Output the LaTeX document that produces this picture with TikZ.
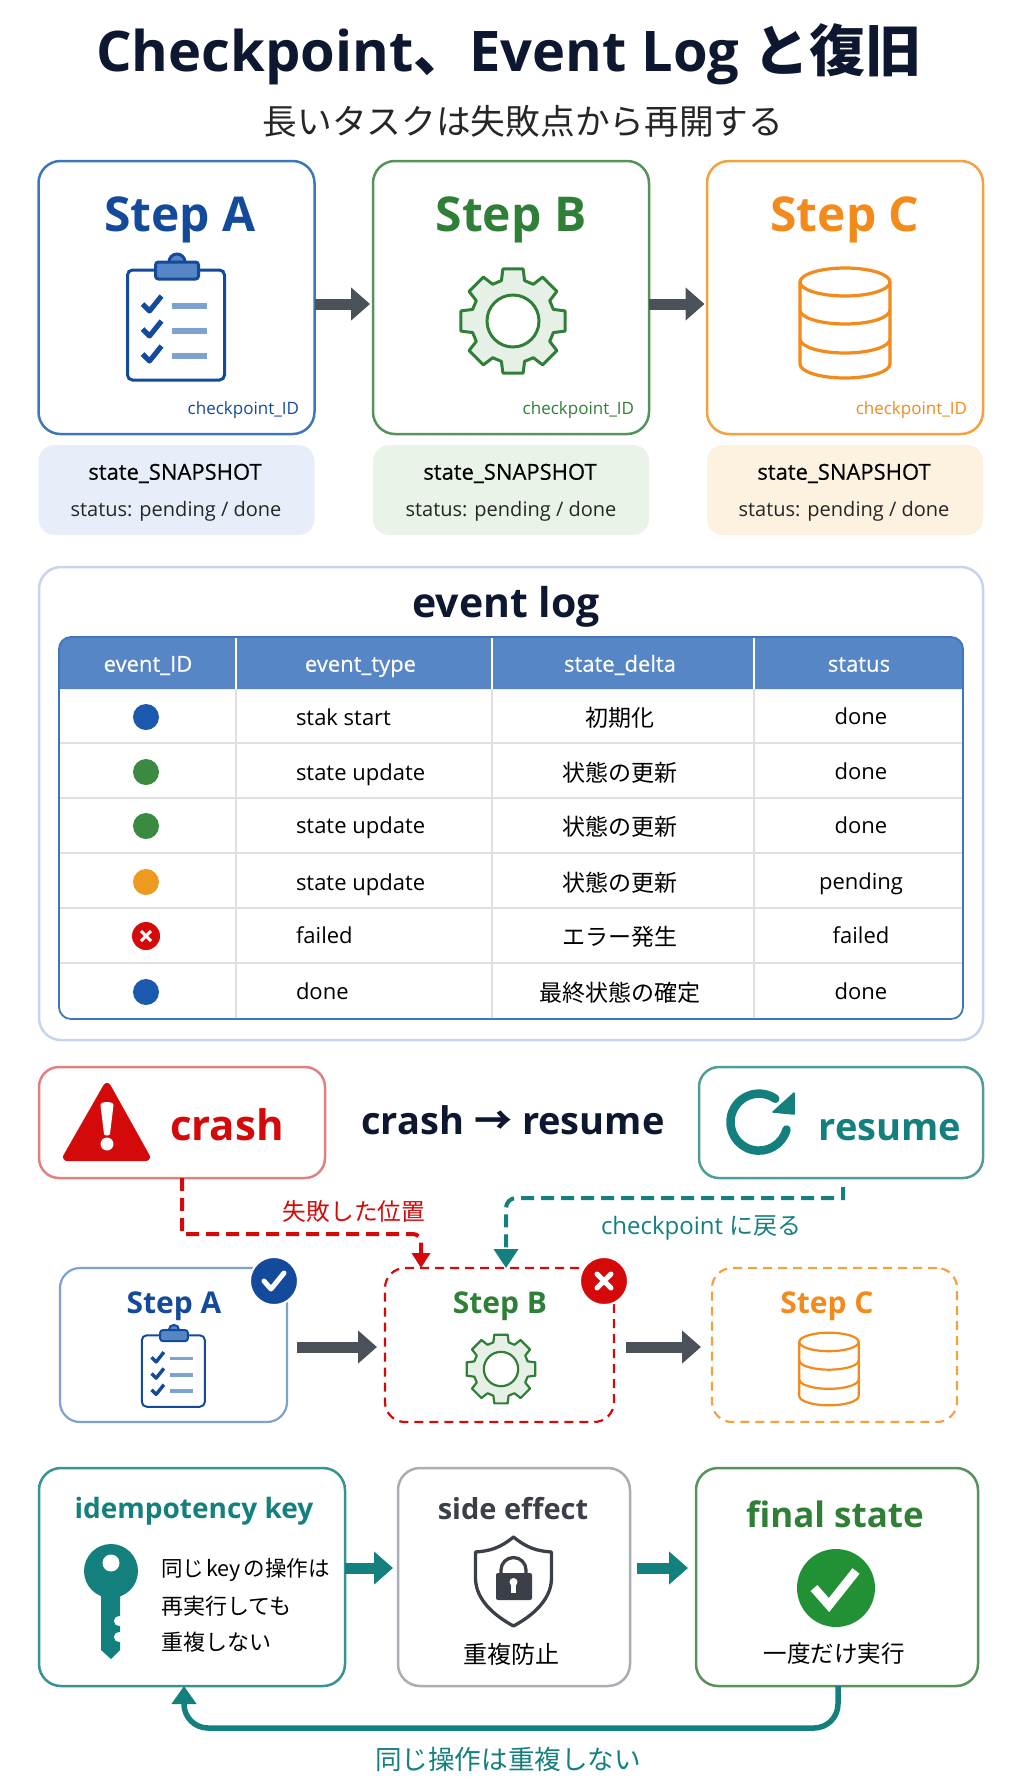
\documentclass[tikz,border=0pt]{standalone}
\usepackage{fontspec}
\setmainfont{Open Sans}
\newfontfamily\cjk{Noto Sans CJK JP}
\newfontfamily\medium[FakeBold=0.5]{Open Sans}
\usetikzlibrary{arrows.meta}

\definecolor{ink}{HTML}{0D1730}
\definecolor{blue1}{HTML}{134A9B}
\definecolor{blue2}{HTML}{3E76BC}
\definecolor{blue3}{HTML}{7DA2D2}
\definecolor{bluedot}{HTML}{1A59AE}
\definecolor{headblue}{HTML}{5686C6}
\definecolor{green1}{HTML}{2F7F37}
\definecolor{green2}{HTML}{55935B}
\definecolor{greendot}{HTML}{3A8A42}
\definecolor{greenok}{HTML}{229136}
\definecolor{orange1}{HTML}{F28A1C}
\definecolor{orange2}{HTML}{F4A13F}
\definecolor{orangedot}{HTML}{EC9A20}
\definecolor{red1}{HTML}{D40A0A}
\definecolor{red2}{HTML}{E27F80}
\definecolor{teal1}{HTML}{14807E}
\definecolor{teal2}{HTML}{4F9C99}
\definecolor{greyline}{HTML}{4B5159}
\definecolor{greybox}{HTML}{A9ADB4}
\definecolor{dark}{HTML}{3A3F48}
\definecolor{snapblue}{HTML}{E7EEF9}
\definecolor{snapgreen}{HTML}{EAF3E8}
\definecolor{snaporange}{HTML}{FDF1E0}

\newcommand{\fs}[1]{\fontsize{#1}{#1}\selectfont}

\tikzset{
  lab/.style={inner sep=0pt,outer sep=0pt,font=\fs{#1},text height=0.74*#1 pt,text depth=0.22*#1 pt},
  jlab/.style={inner sep=0pt,outer sep=0pt,font=\fs{#1}\cjk,text height=0.88*#1 pt,text depth=0.12*#1 pt},
  stepbox/.style={draw=#1,rounded corners=22pt,line width=2.5pt,minimum width=276pt,minimum height=273pt,inner sep=0pt,outer sep=0pt},
  snapbox/.style={fill=#1,rounded corners=16pt,minimum width=276pt,minimum height=90pt,inner sep=0pt,outer sep=0pt},
  lowbox/.style={draw=#1,rounded corners=22pt,line width=2.5pt,minimum height=218pt,inner sep=0pt,outer sep=0pt},
  dashbox/.style={draw=#1,rounded corners=20pt,line width=2.2pt,dash pattern=on 9pt off 6pt,minimum height=154pt,inner sep=0pt,outer sep=0pt},
  bigarrow/.style={draw=#1,line width=11pt,-{Triangle[length=19pt,width=32pt]}},
  dot/.style={circle,fill=#1,minimum size=26pt,inner sep=0pt,outer sep=0pt},
  clipicon/.pic={
    \path[draw=blue1,fill=white,rounded corners=5pt] (-48,-55) rectangle (49,55);
    \path[draw=blue1,fill=headblue] (1.5,-63) circle[radius=8pt];
    \path[draw=blue1,fill=headblue,rounded corners=3pt] (-20,-63) rectangle (23,-46);
    \path[draw=blue1,line join=round,line width=1.3*\pgflinewidth] (-33,-21) -- (-26,-14) -- (-14,-29);
    \path[draw=blue1,line join=round,line width=1.3*\pgflinewidth] (-33,4) -- (-26,11) -- (-14,-4);
    \path[draw=blue1,line join=round,line width=1.3*\pgflinewidth] (-33,29) -- (-26,36) -- (-14,21);
    \path[draw=blue3,line width=1.3*\pgflinewidth] (-4,-19) -- (31,-19);
    \path[draw=blue3,line width=1.3*\pgflinewidth] (-4,6) -- (31,6);
    \path[draw=blue3,line width=1.3*\pgflinewidth] (-4,31) -- (31,31);
  },
  gearicon/.pic={
    \path[draw=green1,fill=green1!12,line join=round] (-16:42)
      \foreach \a in {0,45,...,315} { -- (\a-16:42) -- (\a-11:53) -- (\a+11:53) -- (\a+16:42) } -- cycle;
    \path[draw=green1,fill=white] (0,0) circle[radius=26pt];
  },
  cylicon/.pic={
    \path[draw=orange1,fill=white] (-45,-41) -- (-45,41) arc[start angle=180,end angle=360,x radius=45pt,y radius=14pt] -- (45,-41);
    \path[draw=orange1,fill=white] (0,-41) ellipse[x radius=45pt,y radius=14pt];
    \path[draw=orange1] (-45,-13) arc[start angle=180,end angle=360,x radius=45pt,y radius=14pt];
    \path[draw=orange1] (-45,16) arc[start angle=180,end angle=360,x radius=45pt,y radius=14pt];
  },
}

\begin{document}
\begin{tikzpicture}[x=1pt,y=-1pt]
\useasboundingbox (0,0) rectangle (1024,1792);

\node[lab=56,font=\fs{56}\bfseries,text=ink] (title) at (509,57) {Checkpoint{\cjk 、}Event Log {\cjk と復旧}};
\node[jlab=34.7,text=black!85] (subtitle) at (523,121) {長いタスクは失敗点から再開する};

\node[stepbox=blue2] (stepa) at (176.5,297.5) {};
\node[stepbox=green2] (stepb) at (511,297.5) {};
\node[stepbox=orange2] (stepc) at (845,297.5) {};

\node[lab=48,font=\fs{48}\bfseries,text=blue1] (titlea) at (180,219) {Step A};
\node[lab=48,font=\fs{48}\bfseries,text=green1] (titleb) at (511,219) {Step B};
\node[lab=48,font=\fs{48}\bfseries,text=orange1] (titlec) at (845,219) {Step C};

\pic[line width=3pt] at (175.5,325) {clipicon};
\pic[line width=3pt] at (513,321) {gearicon};
\pic[line width=3.2pt] at (845,323) {cylicon};

\node[lab=17,anchor=east,text=blue1] (ida) at (299,410) {checkpoint\_ID};
\node[lab=17,anchor=east,text=green1] (idb) at (634,410) {checkpoint\_ID};
\node[lab=17,anchor=east,text=orange1] (idc) at (967,410) {checkpoint\_ID};

\path[bigarrow=greyline,shorten >=3pt] (stepa.east |- 0,304) -- (stepb.west |- 0,304);
\path[bigarrow=greyline,shorten >=2.5pt] (stepb.east |- 0,304) -- (stepc.west |- 0,304);

\node[snapbox=snapblue] (snapa) at (176.5,490) {};
\node[snapbox=snapgreen] (snapb) at (511,490) {};
\node[snapbox=snaporange] (snapc) at (845,490) {};

\node[lab=22,font=\fs{22}\medium,text=black] (snapa1) at (175,474) {state\_SNAPSHOT};
\node[lab=22,font=\fs{22}\medium,text=black] (snapb1) at (510,474) {state\_SNAPSHOT};
\node[lab=22,font=\fs{22}\medium,text=black] (snapc1) at (844,474) {state\_SNAPSHOT};
\node[lab=20,text=black!85] (snapa2) at (176,511) {status: pending / done};
\node[lab=20,text=black!85] (snapb2) at (511,511) {status: pending / done};
\node[lab=20,text=black!85] (snapc2) at (844,511) {status: pending / done};

\path[draw=blue3!45,line width=2.5pt,rounded corners=22pt] (39,567) rectangle (983,1040);
\node[lab=41,font=\fs{41}\bfseries,text=ink] (logtitle) at (506,607) {event log};

\path[fill=headblue] (59,689) [rounded corners=12pt] -- (59,637) -- (963,637) [sharp corners] -- (963,689) -- cycle;
\path[draw=black!12,line width=1.5pt] (59,743) -- (963,743);
\path[draw=black!12,line width=1.5pt] (59,798) -- (963,798);
\path[draw=black!12,line width=1.5pt] (59,853) -- (963,853);
\path[draw=black!12,line width=1.5pt] (59,908) -- (963,908);
\path[draw=black!12,line width=1.5pt] (59,963) -- (963,963);
\path[draw=black!12,line width=1.5pt] (236,689) -- (236,1019);
\path[draw=black!12,line width=1.5pt] (492,689) -- (492,1019);
\path[draw=black!12,line width=1.5pt] (754,689) -- (754,1019);
\path[draw=white,line width=1.2pt] (236,637) -- (236,689);
\path[draw=white,line width=1.2pt] (492,637) -- (492,689);
\path[draw=white,line width=1.2pt] (754,637) -- (754,689);
\path[draw=blue2,line width=1.8pt,rounded corners=12pt] (59,637) rectangle (963,1019);

\node[lab=22,font=\fs{22}\medium,text=white] (head1) at (148,666) {event\_ID};
\node[lab=22,font=\fs{22}\medium,text=white] (head2) at (360.5,666) {event\_type};
\node[lab=22,font=\fs{22}\medium,text=white] (head3) at (620,666) {state\_delta};
\node[lab=22,font=\fs{22}\medium,text=white] (head4) at (859,666) {status};

\node[dot=bluedot] (dot1) at (146,717) {};
\node[dot=greendot] (dot2) at (146,772) {};
\node[dot=greendot] (dot3) at (146,826) {};
\node[dot=orangedot] (dot4) at (146,882) {};
\node[dot=red1,minimum size=28pt] (dot5) at (146,936) {};
\node[dot=bluedot] (dot6) at (146,992) {};
\path[draw=white,line width=3pt] (141,931) -- (151,941);
\path[draw=white,line width=3pt] (151,931) -- (141,941);

\node[lab=22,anchor=west] (type1) at (296,720) {stak start};
\node[lab=22,anchor=west] (type2) at (296,775) {state update};
\node[lab=22,anchor=west] (type3) at (296,828) {state update};
\node[lab=22,anchor=west] (type4) at (296,885) {state update};
\node[lab=22,anchor=west] (type5) at (296,938) {failed};
\node[lab=22,anchor=west] (type6) at (296,994) {done};

\node[jlab=23] (delta1) at (620,718) {初期化};
\node[jlab=23] (delta2) at (620,773) {状態の更新};
\node[jlab=23] (delta3) at (620,827) {状態の更新};
\node[jlab=23] (delta4) at (620,883) {状態の更新};
\node[jlab=23] (delta5) at (620,937) {エラー発生};
\node[jlab=23] (delta6) at (620,993) {最終状態の確定};

\node[lab=22] (stat1) at (861,719) {done};
\node[lab=22] (stat2) at (861,774) {done};
\node[lab=22] (stat3) at (861,828) {done};
\node[lab=22] (stat4) at (861,884) {pending};
\node[lab=22] (stat5) at (861,938) {failed};
\node[lab=22] (stat6) at (861,994) {done};

\node[draw=red2,rounded corners=20pt,line width=2.5pt,minimum width=286pt,minimum height=111pt,inner sep=0pt,outer sep=0pt] (crashbox) at (182,1122.5) {};
\node[draw=teal2,rounded corners=20pt,line width=2.5pt,minimum width=284pt,minimum height=111pt,inner sep=0pt,outer sep=0pt] (resumebox) at (841,1122.5) {};

\path[fill=red1,draw=red1,line width=8pt,line join=round] (107,1087) -- (146,1157) -- (67,1157) -- cycle;
\path[fill=white] (100.5,1105) .. controls (100.5,1101) and (113.5,1101) .. (113.5,1105) -- (110,1134) .. controls (109.5,1136) and (104.5,1136) .. (104,1134) -- cycle;
\path[fill=white] (107,1144) circle[radius=6.5pt];
\node[lab=42,font=\fs{42}\bfseries,text=red1] (crashlab) at (227,1130) {crash};

\node[lab=38,font=\fs{38}\bfseries,text=ink] (flowlab) at (513,1125) {crash {\cjk →} resume};

\path[draw=teal1,line width=8.5pt,line cap=round] (786.5,1129.5) arc[start angle=-15,end angle=-305,radius=28.5pt];
\path[fill=teal1,draw=teal1,line width=1.5pt,line join=round] (794,1093) -- (794,1114) -- (773,1112) -- cycle;
\node[lab=38,font=\fs{38}\bfseries,text=teal1] (resumelab) at (890,1131) {resume};

\node[dashbox=red1,minimum width=229pt] (stepb2) at (499.5,1345) {};
\node[draw=blue3,rounded corners=20pt,line width=2.2pt,minimum width=227pt,minimum height=154pt,inner sep=0pt,outer sep=0pt] (stepa2) at (173.5,1345) {};
\node[dashbox=orange2,minimum width=245pt] (stepc2) at (834.5,1345) {};

\coordinate (redturn) at (421,1234);
\coordinate (tealout) at (843,1187);
\coordinate (tealturn) at (506,1198);
\path[draw=red1,line width=4pt,dash pattern=on 13pt off 7pt,-{Triangle[length=15pt,width=18pt]}] (crashbox.south) -- (crashbox.south |- redturn) [rounded corners=8pt] -- (redturn) -- (redturn |- stepb2.north);
\path[draw=teal1,line width=4pt,dash pattern=on 13pt off 7pt,-{Triangle[length=19pt,width=24pt]}] (tealout) -- (tealout |- tealturn) [rounded corners=10pt] -- (tealturn) -- (tealturn |- stepb2.north);

\node[jlab=23.7,text=red1] (faillab) at (354,1211) {失敗した位置};
\node[lab=24,anchor=west,text=teal1] (backlab) at (601,1228) {checkpoint {\cjk に戻る}};

\node[lab=30,font=\fs{30}\bfseries,text=blue1] (titlea2) at (174,1306) {Step A};
\node[lab=30,font=\fs{30}\bfseries,text=green1] (titleb2) at (500,1306) {Step B};
\node[lab=30,font=\fs{30}\bfseries,text=orange1] (titlec2) at (827,1306) {Step C};

\pic[scale=.65,line width=2pt] at (173,1371) {clipicon};
\pic[scale=.66,line width=2.2pt] at (501,1369) {gearicon};
\pic[scale=.66,line width=2.2pt] at (829,1369) {cylicon};

\path[bigarrow=greyline] (297,1347) -- (377,1347);
\path[bigarrow=greyline] (626,1347) -- (701,1347);

\node[circle,fill=blue1,draw=white,line width=2pt,minimum size=48pt,inner sep=0pt,outer sep=0pt] (okbadge) at (274,1281) {};
\path[draw=white,line width=5pt,line join=round,line cap=round] (264,1281) -- (271,1289) -- (284,1273);
\node[circle,fill=red1,draw=white,line width=2pt,minimum size=48pt,inner sep=0pt,outer sep=0pt] (xbadge) at (604,1281) {};
\path[draw=white,line width=5pt,line cap=round] (597,1274) -- (611,1288);
\path[draw=white,line width=5pt,line cap=round] (611,1274) -- (597,1288);

\node[lowbox=teal1!85!white,minimum width=306pt] (idemp) at (192,1577) {};
\node[lowbox=greybox,minimum width=232pt] (side) at (514,1577) {};
\node[lowbox=green2,minimum width=282pt] (final) at (837,1577) {};

\node[lab=28,font=\fs{28}\bfseries,text=teal1] (idemplab) at (194,1511) {idempotency key};
\node[lab=29,font=\fs{29}\bfseries,text=dark] (sidelab) at (513,1512) {side effect};
\node[lab=35,font=\fs{35}\bfseries,text=green1] (finallab) at (835,1518) {final state};

\path[fill=teal1] (111,1571) circle[radius=27pt];
\path[fill=teal1] (101,1590) -- (101,1650) -- (111,1659) -- (120,1650) -- (120,1590) -- cycle;
\path[fill=white] (111,1563) circle[radius=8.5pt];
\path[fill=white] (119,1621) circle[radius=5pt];
\path[fill=white] (119,1637) circle[radius=5pt];

\node[jlab=21.5,anchor=west] (key1) at (161,1568) {同じ\hspace{2.5pt}key\hspace{2.5pt}の操作は};
\node[jlab=22,anchor=west] (key2) at (161,1606) {再実行しても};
\node[jlab=22,anchor=west] (key3) at (161,1642) {重複しない};

\path[draw=dark,line width=3.3pt,line join=round,fill=white] (513.5,1537) .. controls (500,1548) and (490,1551) .. (475.5,1552) -- (475.5,1578) .. controls (475.5,1600) and (495,1616) .. (513.5,1626) .. controls (532,1616) and (551.5,1600) .. (551.5,1578) -- (551.5,1552) .. controls (537,1551) and (527,1548) .. (513.5,1537) -- cycle;
\path[draw=dark,line width=3.3pt] (501,1574) -- (501,1570) arc[start angle=180,end angle=0,radius=12.5pt] -- (526,1574);
\path[fill=dark,rounded corners=2pt] (496,1573) rectangle (532,1600);
\path[fill=white] (513.5,1582) circle[radius=4pt];
\path[fill=white] (511,1582) rectangle (516,1593);

\node[jlab=24] (sidetxt) at (511,1654) {重複防止};

\node[circle,fill=greenok,minimum size=78pt,inner sep=0pt,outer sep=0pt] (okcircle) at (836,1588) {};
\path[draw=white,line width=9pt,line join=miter] (814,1588) -- (829,1605) -- (856,1571);
\node[jlab=23.5] (finaltxt) at (834,1654) {一度だけ実行};

\path[bigarrow=teal1] (idemp.east |- 0,1568) -- (393,1568);
\path[bigarrow=teal1] (637,1568) -- (688,1568);
\coordinate (loopout) at (838,1728);
\coordinate (loopin) at (184,1728);
\path[draw=teal1,line width=5.5pt,rounded corners=24pt,-{Triangle[length=18pt,width=24pt]}] (loopout |- final.south) -- (loopout) -- (loopin) -- (loopin |- idemp.south);
\node[jlab=26.6,text=teal1] (looplab) at (508,1759) {同じ操作は重複しない};
\end{tikzpicture}
\end{document}
